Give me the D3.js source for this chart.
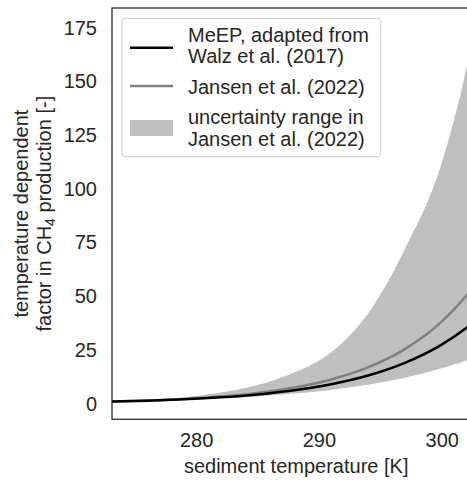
<!DOCTYPE html>
<html>
<head>
<meta charset="utf-8">
<script src="https://cdn.jsdelivr.net/npm/d3@7"></script>
<style>
  body{margin:0;background:#fff;}
  svg{font-family:'Liberation Sans',Arial,sans-serif;}
</style>
</head>
<body>
<div id="chart"></div>
<script>
// sediment temperature [K]
const temperatures = [273.15,276,279,282,285,288,291,294,297,300,302,302.5,303.15];
// MeEP, adapted from Walz et al. (2017)
const meepFactor = [1.0,1.42,2.06,2.98,4.31,6.25,9.05,13.1,19.0,27.5,35.2,37.4,40.4];
// Jansen et al. (2022)
const jansenFactor = [1.0,1.47,2.2,3.3,5.0,7.5,11.3,16.9,25.4,38.2,50.2,53.7,58.6];
// uncertainty range in Jansen et al. (2022)
const upperFactor = [1.0,1.7,2.9,5.2,8.7,14.5,24.0,42.0,72.0,112.0,156.0,170.0,190.0];
const lowerFactor = [1.0,1.35,1.84,2.5,3.4,4.7,6.4,8.8,12.1,16.5,20.1,21.2,22.7];

const xTicks = [280,290,300];
const yTicks = [0,25,50,75,100,125,150,175];

const legendItems = [
  {kind:'line',color:'#000000',lines:['MeEP, adapted from','Walz et al. (2017)']},
  {kind:'line',color:'#808080',lines:['Jansen et al. (2022)']},
  {kind:'patch',color:'#bfbfbf',lines:['uncertainty range in','Jansen et al. (2022)']}
];

const width = 467, height = 481;
const plot = {left:112, top:8, right:480.4, bottom:419.3};
const textColor = '#262626';

const svg = d3.select('#chart').append('svg')
  .attr('width',width)
  .attr('height',height);

svg.append('rect')
  .attr('width',width)
  .attr('height',height)
  .attr('fill','#ffffff');

const x = d3.scaleLinear()
  .domain([273.15,303.15])
  .range([plot.left,plot.right]);

const y = d3.scaleLinear()
  .domain([-7.26,184.2])
  .range([plot.bottom,plot.top]);

svg.append('defs').append('clipPath')
  .attr('id','plot-clip')
  .append('rect')
  .attr('x',plot.left)
  .attr('y',plot.top)
  .attr('width',plot.right-plot.left)
  .attr('height',plot.bottom-plot.top);

const rows = temperatures.map(function (t,i) {
  return {t:t,meep:meepFactor[i],jansen:jansenFactor[i],lo:lowerFactor[i],hi:upperFactor[i]};
});

const g = svg.append('g')
  .attr('clip-path','url(#plot-clip)');

g.append('path')
  .datum(rows)
  .attr('fill','#bfbfbf')
  .attr('d',d3.area()
    .curve(d3.curveMonotoneX)
    .x(function (d) { return x(d.t); })
    .y0(function (d) { return y(d.lo); })
    .y1(function (d) { return y(d.hi); }));

g.append('path')
  .datum(rows)
  .attr('fill','none')
  .attr('stroke','#808080')
  .attr('stroke-width',2.5)
  .attr('d',d3.line()
    .curve(d3.curveMonotoneX)
    .x(function (d) { return x(d.t); })
    .y(function (d) { return y(d.jansen); }));

g.append('path')
  .datum(rows)
  .attr('fill','none')
  .attr('stroke','#000000')
  .attr('stroke-width',2.5)
  .attr('d',d3.line()
    .curve(d3.curveMonotoneX)
    .x(function (d) { return x(d.t); })
    .y(function (d) { return y(d.meep); }));

// axes, no tick marks (seaborn white style)
const xAxis = svg.append('g')
  .attr('transform','translate(0,'+plot.bottom+')')
  .call(d3.axisBottom(x).tickValues(xTicks).tickSize(0).tickPadding(14));

const yAxis = svg.append('g')
  .attr('transform','translate('+plot.left+',0)')
  .call(d3.axisLeft(y).tickValues(yTicks).tickSize(0).tickPadding(15));

[xAxis,yAxis].forEach(function (a) {
  a.select('.domain').remove();
  a.selectAll('text')
    .attr('fill',textColor)
    .style('font-size','20px')
    .style('font-family','Liberation Sans, Arial, sans-serif');
});

// spines
svg.append('rect')
  .attr('x',plot.left)
  .attr('y',plot.top)
  .attr('width',plot.right-plot.left)
  .attr('height',plot.bottom-plot.top)
  .attr('fill','none')
  .attr('stroke',textColor)
  .attr('stroke-width',1.25);

svg.append('text')
  .attr('x',(plot.left+plot.right)/2)
  .attr('y',473)
  .attr('text-anchor','middle')
  .attr('fill',textColor)
  .style('font-size','20px')
  .text('sediment temperature [K]');

const yLabel = svg.append('text')
  .attr('transform','translate(28,'+((plot.top+plot.bottom)/2)+') rotate(-90)')
  .attr('text-anchor','middle')
  .attr('fill',textColor)
  .style('font-size','20px');

yLabel.append('tspan')
  .attr('x',0)
  .attr('y',0)
  .text('temperature dependent');

const line2 = yLabel.append('tspan')
  .attr('x',0)
  .attr('y',23);
line2.append('tspan').text('factor in CH');
line2.append('tspan')
  .attr('dy',4)
  .style('font-size','14px')
  .text('4');
line2.append('tspan')
  .attr('dy',-4)
  .text(' production [-]');

// legend
const legend = svg.append('g');

legend.append('rect')
  .attr('x',122)
  .attr('y',18.3)
  .attr('width',258.7)
  .attr('height',138.4)
  .attr('rx',3)
  .attr('fill','#ffffff')
  .attr('fill-opacity',0.8)
  .attr('stroke','#cccccc')
  .attr('stroke-width',1);

const handleY = [47.7,86,128];
const baselines = [[41.7,63.3],[94],[124,145.7]];

legendItems.forEach(function (item,i) {
  if (item.kind==='line') {
    legend.append('line')
      .attr('x1',130)
      .attr('x2',173)
      .attr('y1',handleY[i])
      .attr('y2',handleY[i])
      .attr('stroke',item.color)
      .attr('stroke-width',2.5);
  } else {
    legend.append('rect')
      .attr('x',130)
      .attr('y',handleY[i]-8)
      .attr('width',43)
      .attr('height',16)
      .attr('fill',item.color);
  }
  item.lines.forEach(function (txt,j) {
    legend.append('text')
      .attr('x',188)
      .attr('y',baselines[i][j])
      .attr('fill',textColor)
      .style('font-size','20px')
      .text(txt);
  });
});
</script>
</body>
</html>
